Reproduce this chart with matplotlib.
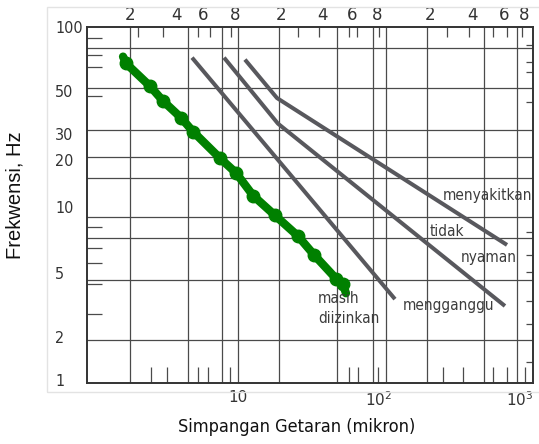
import numpy as np
import matplotlib
matplotlib.use("Agg")
import matplotlib.pyplot as plt
from matplotlib import font_manager as fm
from matplotlib.transforms import blended_transform_factory
from matplotlib.patches import Rectangle
from matplotlib.ticker import NullLocator

# ---------------- data ----------------
green_x = [1.53, 1.61, 2.38, 2.94, 3.94, 4.80, 7.45, 9.68, 12.8, 18.3, 26.6, 34.6, 49.5, 55.6, 58.3]
green_y = [72.6, 67.4, 52.7, 44.4, 36.3, 30.7, 20.6, 16.6, 11.9, 9.19, 7.38, 6.04, 4.59, 4.22, 3.72]

mengganggu_x = [4.72, 129.8]
mengganggu_y = [71.8, 3.42]
nyaman_x = [7.96, 19.2, 782.0]
nyaman_y = [71.8, 33.8, 3.10]
menyakitkan_x = [11.2, 18.9, 809.0]
menyakitkan_y = [70.3, 46.0, 6.71]

y_tick_values = [1, 2, 5, 10, 20, 30, 50, 100]
y_tick_labels = ["1", "2", "5", "10", "20", "30", "50", "100"]
x_tick_values = [10, 100, 1000]
x_tick_labels = ["10", "$10^2$", "$10^3$"]
top_tick_labels = ["2", "4", "6", "8"] * 3

zone_labels = ["menyakitkan", "tidak", "nyaman", "mengganggu", "masih", "diizinkan"]

# ---------------- axis calibration of the scanned chart ----------------
Y_CAL_LOG = np.log10([0.1, 1, 2, 5, 10, 20, 30, 50, 100, 1000])
Y_CAL_PX = np.array([559, 380, 336, 271, 205, 157, 130, 87, 22, -157], float)


def y_forward(v):
    v = np.clip(np.asarray(v, float), 1e-6, None)
    return -np.interp(np.log10(v), Y_CAL_LOG, Y_CAL_PX)


def y_inverse(t):
    t = np.asarray(t, float)
    return 10 ** np.interp(-t, Y_CAL_PX[::-1], Y_CAL_LOG[::-1])


def px2y(p):
    return float(y_inverse(-p))


def px2x(p):
    return 10 ** (1 + (p - 238) / 141.0)


names = {f.name for f in fm.fontManager.ttflist}
if "Liberation Sans Narrow" in names:
    NARROW = dict(family="Liberation Sans Narrow")
else:
    NARROW = dict(family="DejaVu Sans", stretch="condensed")

W, H = 539, 444
fig = plt.figure(figsize=(W / 100, H / 100), dpi=100)
L, R, T, B = 87, 533, 27, 383
ax = fig.add_axes([L / W, (H - B) / H, (R - L) / W, (B - T) / H])

# faint border of the scanned page
fig.patches.append(Rectangle((47 / W, (H - 392) / H), (W - 47) / W + 0.01, (392 - 7) / H,
                             transform=fig.transFigure, fill=False,
                             edgecolor="#e3e3e3", lw=1.0))

ax.set_xscale("log")
ax.set_yscale("function", functions=(y_forward, y_inverse))

# grid of the original chart
grid_kw = dict(color="#4a4a4a", lw=0.9, zorder=1)
for p in [130, 188, 222, 238, 279, 337, 373, 386, 427, 484, 517]:
    ax.axvline(px2x(p), **grid_kw)
for p in [43, 84, 126, 154, 175, 215, 236, 279, 339]:
    ax.axhline(px2y(p), **grid_kw)

# short inner tick marks along the frame
bx = blended_transform_factory(ax.transData, ax.transAxes)
by = blended_transform_factory(ax.transAxes, ax.transData)
tk = dict(color="#4a4a4a", lw=0.9, zorder=1)
top_px = [138, 163, 198, 210, 231, 298, 319, 349, 357, 379, 447, 469, 493, 507, 522]
bot_px = [151, 167, 198, 208, 230, 349, 358, 378, 443, 463, 493, 507, 525]
left_px = [33, 50, 63, 92, 225, 246, 261, 283, 313]
right_px = [40, 57, 68, 98, 230, 253, 270, 300, 323, 362]
ax.vlines([px2x(p) for p in top_px], 1 - 10 / (B - T), 1, transform=bx, **tk)
ax.vlines([px2x(p) for p in bot_px], 0, 16 / (B - T), transform=bx, **tk)
ax.hlines([px2y(p) for p in left_px], 0, 15 / (R - L), transform=by, **tk)
ax.hlines([px2y(p) for p in right_px], 1 - 7 / (R - L), 1, transform=by, **tk)

# limit curves
gray = "#58585d"
ax.plot(mengganggu_x, mengganggu_y, color=gray, lw=2.9, solid_capstyle="butt", zorder=3)
ax.plot(nyaman_x, nyaman_y, color=gray, lw=2.9, solid_capstyle="butt", zorder=3)
ax.plot(menyakitkan_x, menyakitkan_y, color=gray, lw=2.9, solid_capstyle="butt", zorder=3)

# measured data (green)
ax.plot(green_x, green_y, color="#008000", lw=6, solid_capstyle="round",
        marker="o", ms=9, markevery=slice(1, len(green_x) - 1), zorder=4)

# zone labels
tcol = "#3c3c3c"
tkw = dict(color=tcol, fontsize=11, zorder=5, **NARROW)
ax.text(px2x(488), px2y(193), zone_labels[0], ha="center", va="center", **tkw)
ax.text(px2x(447), px2y(229), zone_labels[1], ha="center", va="center", **tkw)
ax.text(px2x(489), px2y(256), zone_labels[2], ha="center", va="center", **tkw)
ax.text(px2x(448), px2y(304), zone_labels[3], ha="center", va="center", **tkw)
ax.text(px2x(318), px2y(297), zone_labels[4], ha="left", va="center", **tkw)
ax.text(px2x(318), px2y(318), zone_labels[5], ha="left", va="center", **tkw)

# axes limits
ax.set_xlim(px2x(L), px2x(R))
ax.set_ylim(px2y(B), px2y(T))

# ticks
ax.xaxis.set_minor_locator(NullLocator())
ax.yaxis.set_minor_locator(NullLocator())
ax.set_xticks(x_tick_values, x_tick_labels)
ax.set_yticks(y_tick_values, y_tick_labels)
ax.tick_params(axis="x", length=0, pad=5, labelsize=11, labelcolor="#333333")
ax.tick_params(axis="y", length=0, pad=23, labelsize=11.5, labelcolor="#333333")
for lab in ax.get_yticklabels():
    lab.set_horizontalalignment("left")
    lab.set_fontfamily(NARROW["family"])
    if "stretch" in NARROW:
        lab.set_fontstretch(NARROW["stretch"])
for lab in ax.get_xticklabels():
    lab.set_fontfamily(NARROW["family"])

top_px_labels = [130, 177, 203, 235, 281, 323, 352, 377, 430, 472, 504, 524]
sec = ax.secondary_xaxis("top")
sec.xaxis.set_minor_locator(NullLocator())
sec.set_xticks([px2x(p) for p in top_px_labels], top_tick_labels)
sec.tick_params(length=0, pad=2, labelsize=12, labelcolor="#333333")
sec.spines["top"].set_visible(False)
for lab in sec.get_xticklabels():
    lab.set_fontfamily(NARROW["family"])

for s in ax.spines.values():
    s.set_color("#333333")
    s.set_linewidth(1.4)

ax.set_ylabel("Frekwensi, Hz", fontsize=14.5, family="Liberation Sans", va="center",
              color="#111111")
ax.yaxis.set_label_coords((15 - L) / (R - L), (B - 195) / (B - T))
ax.set_xlabel("Simpangan Getaran (mikron)", fontsize=13, va="center", color="#111111",
              **NARROW)
ax.xaxis.set_label_coords((297 - L) / (R - L), (B - 427) / (B - T))

fig.savefig("out.png", dpi=100)
